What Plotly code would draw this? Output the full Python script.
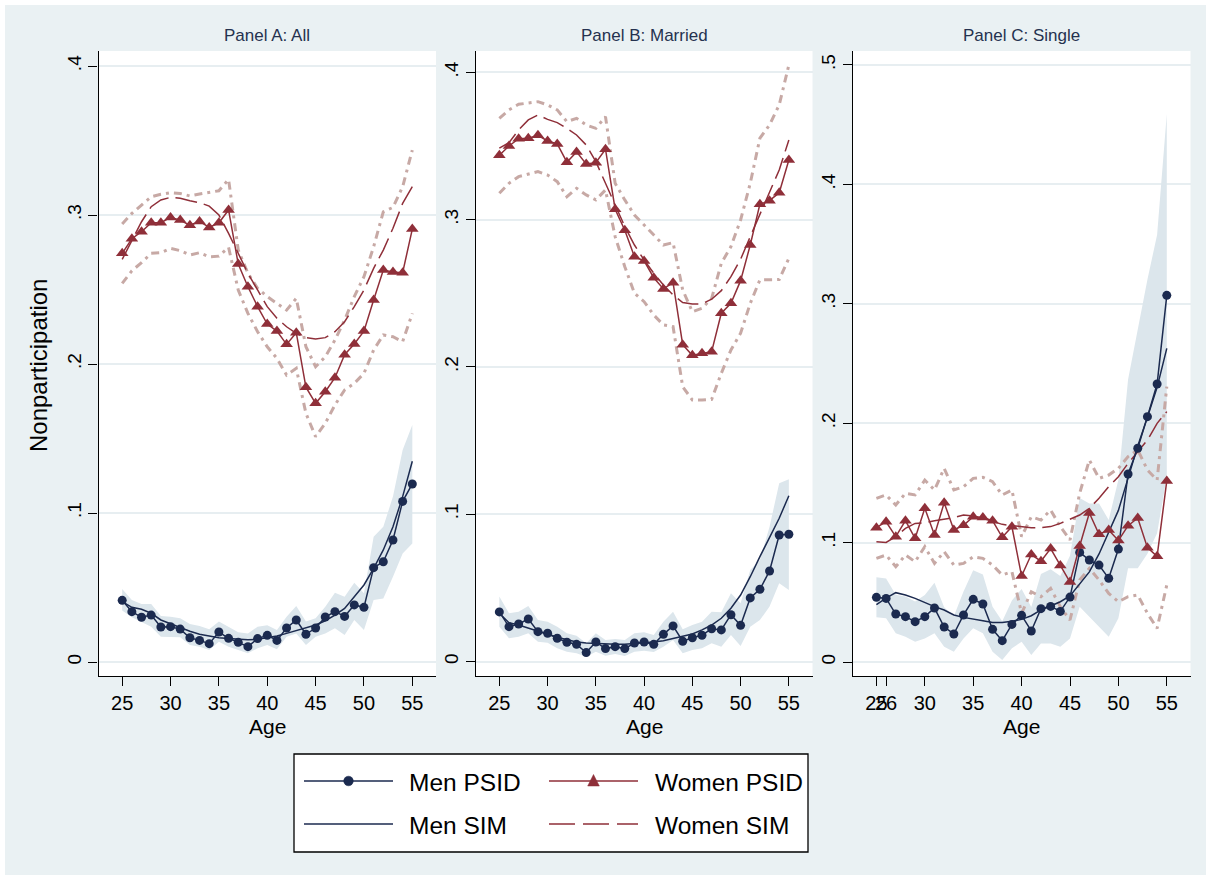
import plotly.graph_objects as go

# ---------------------------------------------------------------
# Nonparticipation by age: PSID data vs. simulated (SIM) profiles
# ---------------------------------------------------------------
ages = list(range(25, 56))

# Panel A: All
a_men_psid = [0.0414, 0.0338, 0.0300, 0.0315, 0.0235, 0.0237, 0.0221, 0.0163, 0.0145, 0.0123, 0.0201,
              0.0159, 0.0132, 0.0103, 0.0157, 0.0179, 0.0145, 0.0228, 0.0282, 0.0186, 0.0228, 0.0302,
              0.0338, 0.0306, 0.0383, 0.0367, 0.0633, 0.0673, 0.0819, 0.1078, 0.1195]
a_men_sim = [0.0405, 0.0367, 0.0354, 0.0327, 0.0282, 0.0255, 0.0228, 0.0206, 0.0186, 0.0172, 0.0163,
             0.0157, 0.0152, 0.0150, 0.0152, 0.0161, 0.0174, 0.0192, 0.0210, 0.0230, 0.0248, 0.0277,
             0.0315, 0.0360, 0.0438, 0.0517, 0.0629, 0.0752, 0.0908, 0.1110, 0.1347]
a_men_hi = [0.0490, 0.0416, 0.0389, 0.0389, 0.0309, 0.0304, 0.0293, 0.0255, 0.0242, 0.0219, 0.0271,
            0.0237, 0.0199, 0.0192, 0.0237, 0.0246, 0.0215, 0.0304, 0.0376, 0.0271, 0.0293, 0.0371,
            0.0465, 0.0438, 0.0532, 0.0461, 0.0841, 0.0908, 0.1110, 0.1423, 0.1591]
a_men_lo = [0.0345, 0.0300, 0.0271, 0.0237, 0.0170, 0.0170, 0.0166, 0.0114, 0.0103, 0.0081, 0.0136,
            0.0103, 0.0081, 0.0058, 0.0092, 0.0114, 0.0085, 0.0170, 0.0192, 0.0114, 0.0170, 0.0192,
            0.0226, 0.0181, 0.0282, 0.0215, 0.0416, 0.0427, 0.0573, 0.0729, 0.0796]
a_wom_psid = [0.2743, 0.2841, 0.2888, 0.2948, 0.2948, 0.2984, 0.2966, 0.2931, 0.2957, 0.2917, 0.2948,
              0.3034, 0.2671, 0.2519, 0.2385, 0.2268, 0.2221, 0.2132, 0.2210, 0.1844, 0.1736, 0.1814,
              0.1908, 0.2063, 0.2134, 0.2221, 0.2430, 0.2631, 0.2617, 0.2613, 0.2906]
a_wom_sim = [0.2702, 0.2832, 0.2955, 0.3056, 0.3101, 0.3119, 0.3112, 0.3096, 0.3083, 0.3060, 0.3000,
             0.2877, 0.2743, 0.2609, 0.2497, 0.2385, 0.2307, 0.2250, 0.2206, 0.2177, 0.2168, 0.2177,
             0.2217, 0.2284, 0.2385, 0.2497, 0.2642, 0.2765, 0.2911, 0.3078, 0.3190]
a_wom_hi = [0.2940, 0.3011, 0.3067, 0.3123, 0.3139, 0.3150, 0.3145, 0.3128, 0.3141, 0.3150, 0.3163,
            0.3239, 0.2765, 0.2609, 0.2508, 0.2452, 0.2407, 0.2362, 0.2441, 0.2116, 0.1982, 0.2049,
            0.2161, 0.2295, 0.2452, 0.2586, 0.2787, 0.3022, 0.3051, 0.3190, 0.3436]
a_wom_lo = [0.2541, 0.2626, 0.2680, 0.2743, 0.2747, 0.2776, 0.2761, 0.2732, 0.2747, 0.2720, 0.2724,
            0.2783, 0.2497, 0.2340, 0.2217, 0.2116, 0.2038, 0.1926, 0.1971, 0.1669, 0.1512, 0.1602,
            0.1725, 0.1826, 0.1870, 0.1937, 0.2094, 0.2195, 0.2183, 0.2150, 0.2340]

# Panel B: Married
b_men_psid = [0.0337, 0.0237, 0.0255, 0.0289, 0.0203, 0.0192, 0.0158, 0.0131, 0.0117, 0.0061, 0.0133,
              0.0088, 0.0101, 0.0088, 0.0126, 0.0133, 0.0117, 0.0185, 0.0242, 0.0138, 0.0162, 0.0179,
              0.0223, 0.0215, 0.0318, 0.0246, 0.0432, 0.0491, 0.0615, 0.0859, 0.0864]
b_men_sim = [0.0328, 0.0264, 0.0248, 0.0226, 0.0203, 0.0185, 0.0165, 0.0147, 0.0133, 0.0126, 0.0122,
             0.0120, 0.0117, 0.0117, 0.0122, 0.0126, 0.0133, 0.0142, 0.0156, 0.0169, 0.0187, 0.0215,
             0.0248, 0.0294, 0.0362, 0.0452, 0.0576, 0.0712, 0.0837, 0.0973, 0.1126]
b_men_hi = [0.0441, 0.0328, 0.0339, 0.0377, 0.0282, 0.0271, 0.0237, 0.0192, 0.0176, 0.0124, 0.0192,
            0.0147, 0.0153, 0.0147, 0.0192, 0.0199, 0.0181, 0.0271, 0.0339, 0.0219, 0.0248, 0.0271,
            0.0339, 0.0335, 0.0464, 0.0396, 0.0622, 0.0690, 0.0916, 0.1210, 0.1238]
b_men_lo = [0.0237, 0.0158, 0.0169, 0.0192, 0.0135, 0.0128, 0.0090, 0.0067, 0.0056, 0.0033, 0.0067,
            0.0040, 0.0052, 0.0038, 0.0067, 0.0074, 0.0065, 0.0101, 0.0147, 0.0056, 0.0079, 0.0090,
            0.0124, 0.0101, 0.0181, 0.0106, 0.0237, 0.0282, 0.0373, 0.0532, 0.0486]
b_wom_psid = [0.3437, 0.3500, 0.3550, 0.3553, 0.3573, 0.3534, 0.3514, 0.3390, 0.3460, 0.3378, 0.3387,
              0.3478, 0.3071, 0.2928, 0.2749, 0.2720, 0.2606, 0.2530, 0.2572, 0.2151, 0.2079, 0.2093,
              0.2104, 0.2365, 0.2432, 0.2586, 0.2828, 0.3105, 0.3129, 0.3183, 0.3405]
b_wom_sim = [0.3485, 0.3523, 0.3609, 0.3677, 0.3711, 0.3681, 0.3659, 0.3620, 0.3575, 0.3507, 0.3394,
             0.3247, 0.3088, 0.2953, 0.2828, 0.2726, 0.2636, 0.2557, 0.2489, 0.2437, 0.2428, 0.2428,
             0.2460, 0.2518, 0.2613, 0.2731, 0.2885, 0.3032, 0.3179, 0.3337, 0.3541]
b_wom_hi = [0.3688, 0.3745, 0.3783, 0.3790, 0.3801, 0.3779, 0.3745, 0.3665, 0.3688, 0.3643, 0.3620,
            0.3699, 0.3247, 0.3134, 0.3032, 0.2964, 0.2896, 0.2828, 0.2844, 0.2523, 0.2375, 0.2398,
            0.2466, 0.2704, 0.2817, 0.2998, 0.3247, 0.3553, 0.3643, 0.3779, 0.4050]
b_wom_lo = [0.3179, 0.3247, 0.3292, 0.3310, 0.3326, 0.3303, 0.3258, 0.3156, 0.3213, 0.3168, 0.3134,
            0.3202, 0.2885, 0.2681, 0.2500, 0.2443, 0.2353, 0.2285, 0.2274, 0.1866, 0.1776, 0.1776,
            0.1780, 0.1957, 0.2115, 0.2229, 0.2432, 0.2591, 0.2591, 0.2594, 0.2738]

# Panel C: Single
c_men_psid = [0.0542, 0.0533, 0.0402, 0.0380, 0.0338, 0.0380, 0.0452, 0.0293, 0.0235, 0.0394, 0.0525,
              0.0486, 0.0274, 0.0179, 0.0315, 0.0391, 0.0260, 0.0447, 0.0466, 0.0424, 0.0544, 0.0918,
              0.0854, 0.0812, 0.0701, 0.0946, 0.1575, 0.1790, 0.2055, 0.2328, 0.3071]
c_men_sim = [0.0480, 0.0535, 0.0581, 0.0561, 0.0533, 0.0497, 0.0464, 0.0436, 0.0394, 0.0374, 0.0363,
             0.0346, 0.0332, 0.0332, 0.0341, 0.0357, 0.0388, 0.0436, 0.0469, 0.0505, 0.0553, 0.0650,
             0.0755, 0.0905, 0.1080, 0.1270, 0.1540, 0.1810, 0.2050, 0.2300, 0.2627]
c_men_hi = [0.0710, 0.0700, 0.0564, 0.0548, 0.0506, 0.0562, 0.0664, 0.0458, 0.0384, 0.0590, 0.0768,
            0.0732, 0.0462, 0.0341, 0.0515, 0.0612, 0.0461, 0.0738, 0.0776, 0.0720, 0.0890, 0.1373,
            0.1328, 0.1328, 0.1190, 0.1526, 0.2365, 0.2795, 0.3203, 0.3578, 0.4589]
c_men_lo = [0.0374, 0.0366, 0.0240, 0.0212, 0.0170, 0.0198, 0.0240, 0.0128, 0.0086, 0.0198, 0.0282,
            0.0240, 0.0086, 0.0017, 0.0115, 0.0170, 0.0059, 0.0156, 0.0156, 0.0128, 0.0198, 0.0463,
            0.0380, 0.0296, 0.0212, 0.0366, 0.0785, 0.0785, 0.0907, 0.1078, 0.1553]
c_wom_psid = [0.1125, 0.1175, 0.1050, 0.1184, 0.1036, 0.1287, 0.1064, 0.1334, 0.1106, 0.1145, 0.1217,
              0.1211, 0.1184, 0.1044, 0.1133, 0.0720, 0.0900, 0.0845, 0.0950, 0.0808, 0.0670, 0.0972,
              0.1248, 0.1070, 0.1105, 0.1018, 0.1142, 0.1207, 0.0958, 0.0885, 0.1517]
c_wom_sim = [0.1008, 0.1002, 0.1050, 0.1119, 0.1161, 0.1167, 0.1184, 0.1198, 0.1209, 0.1231, 0.1223,
             0.1203, 0.1175, 0.1153, 0.1142, 0.1134, 0.1125, 0.1125, 0.1134, 0.1161, 0.1198, 0.1231,
             0.1287, 0.1371, 0.1468, 0.1552, 0.1664, 0.1762, 0.1859, 0.1999, 0.2097]
c_wom_hi = [0.1371, 0.1399, 0.1315, 0.1413, 0.1399, 0.1524, 0.1441, 0.1622, 0.1441, 0.1468, 0.1538,
            0.1547, 0.1510, 0.1399, 0.1441, 0.1050, 0.1217, 0.1189, 0.1273, 0.1134, 0.1022, 0.1413,
            0.1692, 0.1538, 0.1566, 0.1622, 0.1720, 0.1776, 0.1608, 0.1524, 0.2306]
c_wom_lo = [0.0868, 0.0896, 0.0798, 0.0896, 0.0840, 0.0966, 0.0826, 0.0924, 0.0812, 0.0826, 0.0882,
            0.0868, 0.0812, 0.0729, 0.0757, 0.0408, 0.0589, 0.0547, 0.0617, 0.0463, 0.0352, 0.0687,
            0.0785, 0.0687, 0.0575, 0.0505, 0.0547, 0.0561, 0.0408, 0.0282, 0.0645]

panel_titles = ["Panel A: All", "Panel B: Married", "Panel C: Single"]
y_ticks = [[0, 0.1, 0.2, 0.3, 0.4], [0, 0.1, 0.2, 0.3, 0.4], [0, 0.1, 0.2, 0.3, 0.4, 0.5]]
y_tick_text = [["0", ".1", ".2", ".3", ".4"], ["0", ".1", ".2", ".3", ".4"],
               ["0", ".1", ".2", ".3", ".4", ".5"]]
x_ticks = [[25, 30, 35, 40, 45, 50, 55], [25, 30, 35, 40, 45, 50, 55],
           [25, 26, 30, 35, 40, 45, 50, 55]]
legend_labels = ["Men PSID", "Women PSID", "Men SIM", "Women SIM"]

panels = [
    (a_men_psid, a_men_sim, a_men_hi, a_men_lo, a_wom_psid, a_wom_sim, a_wom_hi, a_wom_lo),
    (b_men_psid, b_men_sim, b_men_hi, b_men_lo, b_wom_psid, b_wom_sim, b_wom_hi, b_wom_lo),
    (c_men_psid, c_men_sim, c_men_hi, c_men_lo, c_wom_psid, c_wom_sim, c_wom_hi, c_wom_lo),
]

# ---------------------------------------------------------------
# Styling / geometry (pixels of the 1211 x 880 canvas)
# ---------------------------------------------------------------
W, H = 1211, 880
NAVY = "#1b2a4f"
MAROON = "#8f2f39"
BAND = "#dce6ec"
CI_COL = "#c7a9a5"
BG = "#eaf1f3"
FONT = "Liberation Sans, Arial, sans-serif"
SIM_DASH = "22px,7px"
CI_DASH = "8px,5px,3px,5px"

panel_px = [(98.5, 436.0), (475.7, 812.5), (852.7, 1190.5)]
plot_top, plot_bot = 51.0, 676.0
y_ranges = [[-0.0094, 0.4101], [-0.0098, 0.4145], [-0.0117, 0.5117]]
x_range = [22.55, 57.45]


def px_x(x):
    return x / W


def px_y(y):
    return 1 - y / H


fig = go.Figure()

for i, (mp, ms, mh, ml, wp, ws, wh, wl) in enumerate(panels):
    sfx = "" if i == 0 else str(i + 1)
    xa, ya = "x" + sfx, "y" + sfx
    # men confidence band
    fig.add_trace(go.Scatter(x=ages + ages[::-1], y=mh + ml[::-1], fill="toself",
                             fillcolor=BAND, line=dict(width=0), mode="lines",
                             hoverinfo="skip", showlegend=False, xaxis=xa, yaxis=ya))
    # women confidence bounds
    for bound in (wh, wl):
        fig.add_trace(go.Scatter(x=ages, y=bound, mode="lines",
                                 line=dict(color=CI_COL, width=3, dash=CI_DASH),
                                 hoverinfo="skip", showlegend=False, xaxis=xa, yaxis=ya))
    # simulated profiles
    fig.add_trace(go.Scatter(x=ages, y=ms, mode="lines", name="Men SIM",
                             line=dict(color=NAVY, width=1.5),
                             showlegend=False, xaxis=xa, yaxis=ya))
    fig.add_trace(go.Scatter(x=ages, y=ws, mode="lines", name="Women SIM",
                             line=dict(color=MAROON, width=1.5, dash=SIM_DASH),
                             showlegend=False, xaxis=xa, yaxis=ya))
    # PSID data
    fig.add_trace(go.Scatter(x=ages, y=mp, mode="lines+markers", name="Men PSID",
                             line=dict(color=NAVY, width=1.5),
                             marker=dict(symbol="circle", size=9, color=NAVY),
                             showlegend=False, xaxis=xa, yaxis=ya))
    fig.add_trace(go.Scatter(x=ages, y=wp, mode="lines+markers", name="Women PSID",
                             line=dict(color=MAROON, width=1.5),
                             marker=dict(symbol="triangle-up", size=11, color=MAROON),
                             showlegend=False, xaxis=xa, yaxis=ya))

layout = dict(
    width=W, height=H,
    margin=dict(l=0, r=0, t=0, b=0),
    paper_bgcolor=BG, plot_bgcolor="white",
    font=dict(family=FONT, color="black"),
    showlegend=False,
)

for i in range(3):
    sfx = "" if i == 0 else str(i + 1)
    x0, x1 = panel_px[i]
    layout["xaxis" + sfx] = dict(
        domain=[px_x(x0), px_x(x1)], range=x_range, anchor="y" + sfx,
        tickmode="array", tickvals=x_ticks[i], ticktext=[str(t) for t in x_ticks[i]],
        tickangle=0,
        ticks="outside", ticklen=9, tickwidth=1.3, tickcolor="black",
        showline=True, linecolor="black", linewidth=1.3, showgrid=False, zeroline=False,
        tickfont=dict(size=20, family=FONT, color="black"), fixedrange=True,
    )
    layout["yaxis" + sfx] = dict(
        domain=[px_y(plot_bot), px_y(plot_top)], range=y_ranges[i], anchor="x" + sfx,
        tickmode="array", tickvals=y_ticks[i], ticktext=y_tick_text[i], tickangle=-90,
        ticks="outside", ticklen=9, tickwidth=1.3, tickcolor="black",
        showline=True, linecolor="black", linewidth=1.3,
        showgrid=True, gridcolor="#e7eef1", gridwidth=1.5, zeroline=False,
        tickfont=dict(size=19, family=FONT, color="black"), fixedrange=True,
    )

fig.update_layout(**layout)

annotations = []
for i in range(3):
    x0, x1 = panel_px[i]
    cx = px_x((x0 + x1) / 2)
    annotations.append(dict(text=panel_titles[i], x=cx, y=px_y(36), xref="paper", yref="paper",
                            showarrow=False, xanchor="center", yanchor="middle",
                            font=dict(size=17, family=FONT, color="#25324f")))
    annotations.append(dict(text="Age", x=cx, y=px_y(726), xref="paper", yref="paper",
                            showarrow=False, xanchor="center", yanchor="middle",
                            font=dict(size=21, family=FONT, color="black")))
annotations.append(dict(text="Nonparticipation", x=px_x(38), y=px_y(366), xref="paper", yref="paper",
                        showarrow=False, textangle=-90, xanchor="center", yanchor="middle",
                        font=dict(size=24, family=FONT, color="black")))

# legend box, drawn as shapes and text
shapes = [
    dict(type="rect", xref="paper", yref="paper", x0=0, x1=1, y0=0, y1=1,
         line=dict(color="white", width=10), fillcolor="rgba(0,0,0,0)", layer="above"),
    dict(type="rect", xref="paper", yref="paper", x0=px_x(294), x1=px_x(808),
         y0=px_y(852), y1=px_y(754), line=dict(color="black", width=1.3), fillcolor="white"),
]
legend_rows = [781, 824]
legend_cols = [(304, 393, 407), (549, 638, 653)]
legend_styles = [
    (NAVY, None, "circle"), (MAROON, None, "triangle"),
    (NAVY, None, None), (MAROON, "26px,8px", None),
]
for k, label in enumerate(legend_labels):
    row, col = divmod(k, 2)
    ly = legend_rows[row]
    lx0, lx1, tx = legend_cols[col]
    color, dash, sym = legend_styles[k]
    line = dict(color=color, width=1.6)
    if dash:
        line["dash"] = dash
    shapes.append(dict(type="line", xref="paper", yref="paper", x0=px_x(lx0), x1=px_x(lx1),
                       y0=px_y(ly), y1=px_y(ly), line=line))
    mx = (lx0 + lx1) / 2
    if sym == "circle":
        r = 4.8
        shapes.append(dict(type="circle", xref="paper", yref="paper",
                           x0=px_x(mx - r), x1=px_x(mx + r), y0=px_y(ly + r), y1=px_y(ly - r),
                           fillcolor=color, line=dict(color=color, width=0.5)))
    elif sym == "triangle":
        path = "M {:.5f} {:.5f} L {:.5f} {:.5f} L {:.5f} {:.5f} Z".format(
            px_x(mx - 5.8), px_y(ly + 5), px_x(mx + 5.8), px_y(ly + 5), px_x(mx), px_y(ly - 6.5))
        shapes.append(dict(type="path", xref="paper", yref="paper", path=path,
                           fillcolor=color, line=dict(color=color, width=0.5)))
    annotations.append(dict(text=label, x=px_x(tx), y=px_y(ly + 1), xref="paper", yref="paper",
                            showarrow=False, xanchor="left", yanchor="middle",
                            font=dict(size=24.5, family=FONT, color="black")))

fig.update_layout(annotations=annotations, shapes=shapes)

fig.write_html("out.html")
